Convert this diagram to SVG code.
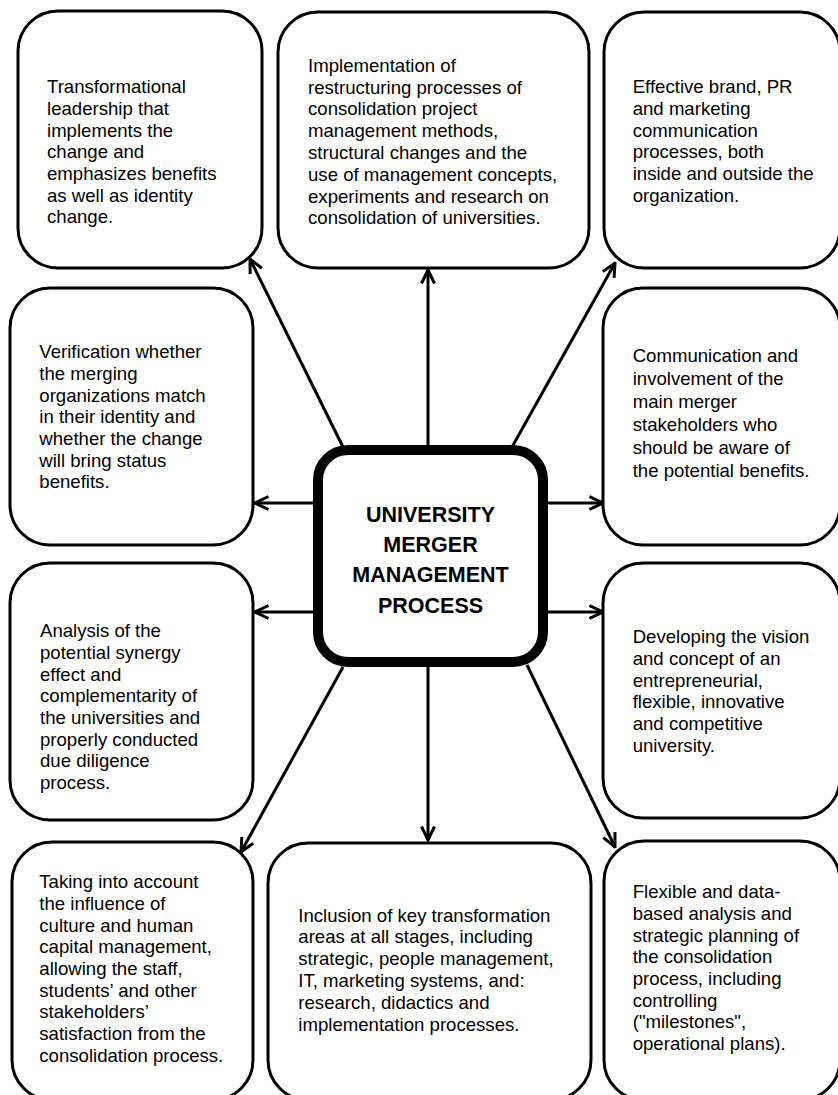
<svg xmlns="http://www.w3.org/2000/svg" width="838" height="1095" viewBox="0 0 838 1095">
<style>
.box{fill:#fff;stroke:#000;stroke-width:3}
.core{fill:#fff;stroke:#000;stroke-width:10}
.t{font-family:"Liberation Sans",Arial,sans-serif;font-size:18.6px;fill:#000}
.c{font-family:"Liberation Sans",Arial,sans-serif;font-size:21.5px;font-weight:bold;fill:#000;text-anchor:middle}
.ln{stroke:#000;stroke-width:3;fill:none;marker-end:url(#ah)}
</style>
<defs>
<marker id="ah" viewBox="0 0 16 16" refX="14.5" refY="8" markerWidth="16" markerHeight="16" markerUnits="userSpaceOnUse" orient="auto">
<path d="M1,1.5 L14.5,8 L1,14.5" fill="none" stroke="#000" stroke-width="3" stroke-linejoin="miter"/>
</marker>
</defs>
<rect width="838" height="1095" fill="#fff"/>
<g id="connectors">
<line class="ln" x1="428" y1="450" x2="428" y2="270"/>
<line class="ln" x1="428" y1="662" x2="428" y2="840"/>
<line class="ln" x1="318" y1="503" x2="255" y2="503"/>
<line class="ln" x1="318" y1="612" x2="255" y2="612"/>
<line class="ln" x1="543" y1="503" x2="603" y2="503"/>
<line class="ln" x1="543" y1="612" x2="603" y2="612"/>
<line class="ln" x1="343" y1="447" x2="250" y2="259"/>
<line class="ln" x1="512" y1="447" x2="615" y2="263"/>
<line class="ln" x1="343" y1="667" x2="241" y2="852"/>
<line class="ln" x1="527" y1="665" x2="615" y2="847"/>
</g>
<g id="n-center">
<rect class="core" x="318" y="450" width="225" height="212" rx="30"/>
<text class="c" x="430.5" y="521.7">UNIVERSITY</text>
<text class="c" x="430.5" y="551.7">MERGER</text>
<text class="c" x="430.5" y="581.7">MANAGEMENT</text>
<text class="c" x="430.5" y="612.7">PROCESS</text>
</g>
<g id="n-tl">
<rect class="box" x="18" y="11" width="244" height="257" rx="40"/>
<text class="t">
<tspan x="47" y="93.3">Transformational</tspan>
<tspan x="47" y="115">leadership that</tspan>
<tspan x="47" y="136.7">implements the</tspan>
<tspan x="47" y="158.3">change and</tspan>
<tspan x="47" y="180">emphasizes benefits</tspan>
<tspan x="47" y="201.7">as well as identity</tspan>
<tspan x="47" y="223.3">change.</tspan>
</text>
</g>
<g id="n-tm">
<rect class="box" x="278" y="12" width="311" height="256" rx="40"/>
<text class="t">
<tspan x="308" y="71.7">Implementation of</tspan>
<tspan x="308" y="93.5">restructuring processes of</tspan>
<tspan x="308" y="115.3">consolidation project</tspan>
<tspan x="308" y="137.1">management methods,</tspan>
<tspan x="308" y="158.9">structural changes and the</tspan>
<tspan x="308" y="180.7">use of management concepts,</tspan>
<tspan x="308" y="202.5">experiments and research on</tspan>
<tspan x="308" y="224.3">consolidation of universities.</tspan>
</text>
</g>
<g id="n-tr">
<rect class="box" x="604" y="12" width="236" height="256" rx="40"/>
<text class="t">
<tspan x="632.7" y="93.3">Effective brand, PR</tspan>
<tspan x="632.7" y="115">and marketing</tspan>
<tspan x="632.7" y="136.7">communication</tspan>
<tspan x="632.7" y="158.3">processes, both</tspan>
<tspan x="632.7" y="180">inside and outside the</tspan>
<tspan x="632.7" y="201.7">organization.</tspan>
</text>
</g>
<g id="n-ml1">
<rect class="box" x="10" y="288" width="243" height="257" rx="40"/>
<text class="t">
<tspan x="39.3" y="358.3">Verification whether</tspan>
<tspan x="39.3" y="380">the merging</tspan>
<tspan x="39.3" y="401.7">organizations match</tspan>
<tspan x="39.3" y="423.3">in their identity and</tspan>
<tspan x="39.3" y="445">whether the change</tspan>
<tspan x="39.3" y="466.7">will bring status</tspan>
<tspan x="39.3" y="488.3">benefits.</tspan>
</text>
</g>
<g id="n-mr1">
<rect class="box" x="603" y="288" width="237" height="257" rx="40"/>
<text class="t">
<tspan x="632.7" y="361.7">Communication and</tspan>
<tspan x="632.7" y="384.7">involvement of the</tspan>
<tspan x="632.7" y="407.7">main merger</tspan>
<tspan x="632.7" y="430.7">stakeholders who</tspan>
<tspan x="632.7" y="453.7">should be aware of</tspan>
<tspan x="632.7" y="476.7">the potential benefits.</tspan>
</text>
</g>
<g id="n-ml2">
<rect class="box" x="10" y="563" width="243" height="257" rx="40"/>
<text class="t">
<tspan x="40" y="637.3">Analysis of the</tspan>
<tspan x="40" y="659">potential synergy</tspan>
<tspan x="40" y="680.7">effect and</tspan>
<tspan x="40" y="702.3">complementarity of</tspan>
<tspan x="40" y="724">the universities and</tspan>
<tspan x="40" y="745.7">properly conducted</tspan>
<tspan x="40" y="767.3">due diligence</tspan>
<tspan x="40" y="789">process.</tspan>
</text>
</g>
<g id="n-mr2">
<rect class="box" x="603" y="563" width="237" height="255" rx="40"/>
<text class="t">
<tspan x="632.7" y="643.3">Developing the vision</tspan>
<tspan x="632.7" y="665">and concept of an</tspan>
<tspan x="632.7" y="686.7">entrepreneurial,</tspan>
<tspan x="632.7" y="708.3">flexible, innovative</tspan>
<tspan x="632.7" y="730">and competitive</tspan>
<tspan x="632.7" y="751.7">university.</tspan>
</text>
</g>
<g id="n-bl">
<rect class="box" x="12" y="842" width="241" height="258" rx="40"/>
<text class="t">
<tspan x="39.3" y="888.3">Taking into account</tspan>
<tspan x="39.3" y="910">the influence of</tspan>
<tspan x="39.3" y="931.7">culture and human</tspan>
<tspan x="39.3" y="953.3">capital management,</tspan>
<tspan x="39.3" y="975">allowing the staff,</tspan>
<tspan x="39.3" y="996.7">students’ and other</tspan>
<tspan x="39.3" y="1018.3">stakeholders’</tspan>
<tspan x="39.3" y="1040">satisfaction from the</tspan>
<tspan x="39.3" y="1061.7">consolidation process.</tspan>
</text>
</g>
<g id="n-bm">
<rect class="box" x="268" y="843" width="323" height="257" rx="40"/>
<text class="t">
<tspan x="298.3" y="921.7">Inclusion of key transformation</tspan>
<tspan x="298.3" y="943.4">areas at all stages, including</tspan>
<tspan x="298.3" y="965.1">strategic, people management,</tspan>
<tspan x="298.3" y="986.8">IT, marketing systems, and:</tspan>
<tspan x="298.3" y="1008.5">research, didactics and</tspan>
<tspan x="298.3" y="1030.5">implementation processes.</tspan>
</text>
</g>
<g id="n-br">
<rect class="box" x="604" y="841" width="236" height="259" rx="40"/>
<text class="t">
<tspan x="632.7" y="898.3">Flexible and data-</tspan>
<tspan x="632.7" y="920">based analysis and</tspan>
<tspan x="632.7" y="941.7">strategic planning of</tspan>
<tspan x="632.7" y="963.3">the consolidation</tspan>
<tspan x="632.7" y="985">process, including</tspan>
<tspan x="632.7" y="1006.7">controlling</tspan>
<tspan x="632.7" y="1028.3">("milestones",</tspan>
<tspan x="632.7" y="1050">operational plans).</tspan>
</text>
</g>
</svg>
